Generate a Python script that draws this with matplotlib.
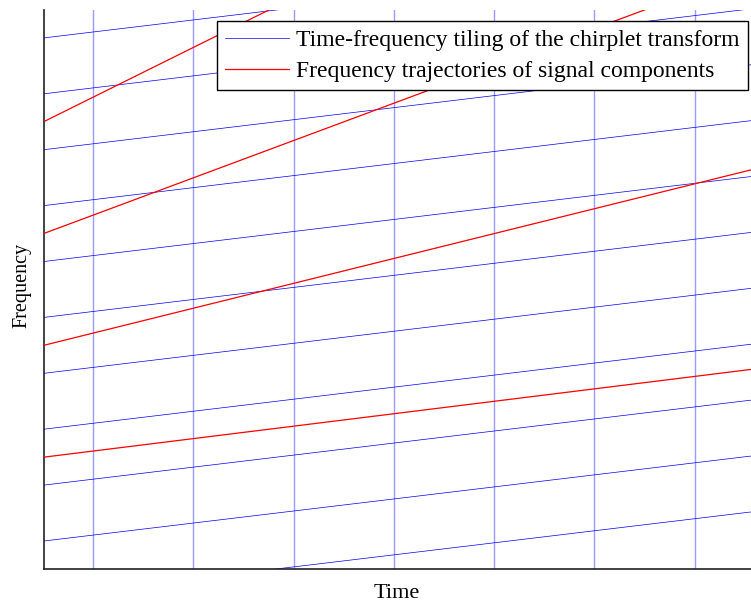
import matplotlib
matplotlib.use("Agg")
import matplotlib.pyplot as plt

# ---- data ----
t_span = [0.0, 1.0]
# chirplet tiling: window boundaries (time)
window_bounds = [0.069, 0.209, 0.349, 0.489, 0.629, 0.769, 0.909]
# chirplet tiling: slanted frequency boundaries, value at t=0 and t=1
tiling_start = [-0.05, 0.05, 0.15, 0.25, 0.35, 0.45, 0.55, 0.65, 0.75, 0.85, 0.95]
tiling_end = [0.104, 0.204, 0.304, 0.404, 0.504, 0.604, 0.704, 0.804, 0.904, 1.004, 1.104]
# signal components (harmonics), frequency at t=0 and t=1
comp_start = [0.2, 0.4, 0.6, 0.8, 1.0]
comp_end = [0.359, 0.718, 1.077, 1.436, 1.795]

labels = ["Time-frequency tiling of the chirplet transform",
          "Frequency trajectories of signal components"]

plt.rcParams['font.family'] = ['Liberation Serif', 'DejaVu Serif']

W, H = 751, 608
fig = plt.figure(figsize=(W / 100, H / 100), dpi=100)
ax_left, ax_right, ax_top, ax_bottom = 43.5, 760.0, 10.0, 569.0
ax = fig.add_axes([ax_left / W, (H - ax_bottom) / H,
                   (ax_right - ax_left) / W, (ax_bottom - ax_top) / H])

blue = '#0000ff'
for xb in window_bounds:
    ax.axvline(xb, color='#9a9aff', lw=1.0, zorder=1)
for i, (s, e) in enumerate(zip(tiling_start, tiling_end)):
    ax.plot(t_span, [s, e], color=blue, lw=0.5, zorder=2,
            label=labels[0] if i == 0 else None)
for i, (s, e) in enumerate(zip(comp_start, comp_end)):
    ax.plot(t_span, [s, e], color='red', lw=0.9, zorder=3,
            label=labels[1] if i == 0 else None)

ax.set_xlim(0, 1)
ax.set_ylim(0, 1)
ax.set_xticks([])
ax.set_yticks([])
for sp in ['top', 'right']:
    ax.spines[sp].set_visible(False)
for sp in ['left', 'bottom']:
    ax.spines[sp].set_color('#222222')
    ax.spines[sp].set_linewidth(1.2)

fig.text(397 / W, 1 - 593 / H, 'Time', ha='center', va='center', fontsize=16)
fig.text(22 / W, 1 - 285 / H, 'Frequency', ha='center', va='center',
         rotation=90, fontsize=14.5)

leg = ax.legend(loc='upper right', bbox_to_anchor=(748 / W, 1 - 21 / H),
                bbox_transform=fig.transFigure, borderaxespad=0,
                fontsize=17, handlelength=2.7, handletextpad=0.3,
                labelspacing=0.4, borderpad=0.35, fancybox=False,
                framealpha=1, edgecolor='black')
leg.get_frame().set_linewidth(1.0)

fig.savefig('out.png', dpi=100)
